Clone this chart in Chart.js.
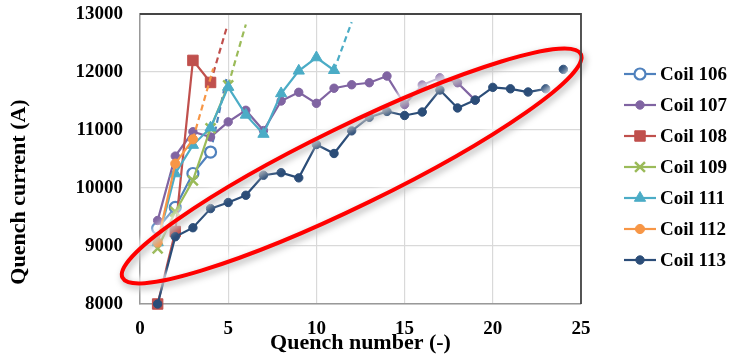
<!DOCTYPE html>
<html>
<head>
<meta charset="utf-8">
<script src="https://cdn.jsdelivr.net/npm/chart.js@4.4.1/dist/chart.umd.min.js"></script>
<style>
  html, body { margin: 0; padding: 0; background: #ffffff; }
  #wrap { width: 731px; height: 356px; }
</style>
</head>
<body>
<div id="wrap"><canvas id="chart" width="731" height="356"></canvas></div>
<script>
// Quench training history per coil: quench number vs quench current (A)
const quenchNumbers = [1, 2, 3, 4, 5, 6, 7, 8, 9, 10, 11, 12, 13, 14, 15, 16, 17, 18, 19, 20, 21, 22, 23, 24];

const coil106 = [9305, 9665, 10250, 10620];
const coil107 = [9440, 10550, 10970, 10880, 11140, 11340, 10990, 11500, 11650, 11460,
                 11720, 11780, 11815, 11930, 11440, 11775, 11900, 11815, 11515];
const coil108 = [8000, 9250, 12200, 11820];
const coil109 = [8960, 9590, 10130, 11030, 11770];
const coil111 = [9060, 10250, 10740, 11040, 11740, 11260, 10930, 11630, 12020, 12250, 12030];
const coil112 = [9060, 10420, 10840];
const coil113 = [8000, 9160, 9315, 9645, 9750, 9875, 10220, 10265, 10175, 10750,
                 10595, 10985, 11220, 11320, 11250, 11310, 11690, 11380, 11515, 11735,
                 11710, 11655, 11710, 12045];

// Dashed continuations beyond the last recorded quench
const trend106X = [4, 4.9],  trend106Y = [10620, 11880];
const trend108X = [4, 4.9],  trend108Y = [11820, 12750];
const trend109X = [5, 6.0],  trend109Y = [11770, 12820];
const trend111X = [11, 12],  trend111Y = [12030, 12860];
const trend112X = [3, 4.15], trend112Y = [10840, 12060];

const xTicks = [0, 5, 10, 15, 20, 25];
const yTicks = [8000, 9000, 10000, 11000, 12000, 13000];

const toPoints = (vals) => vals.map((v, i) => ({ x: quenchNumbers[i], y: v }));
const toPairs = (xs, ys) => xs.map((x, i) => ({ x: x, y: ys[i] }));

const FONT = "'Liberation Serif', 'Times New Roman', serif";

function coilSeries(label, values, color, style, radius, order, extra) {
  return Object.assign({
    label: label,
    data: toPoints(values),
    borderColor: color,
    backgroundColor: color,
    borderWidth: 2.2,
    pointStyle: style,
    pointRadius: radius,
    pointHoverRadius: radius,
    pointBackgroundColor: color,
    pointBorderColor: color,
    pointBorderWidth: 1,
    tension: 0,
    clip: false,
    order: order,
    inLegend: true
  }, extra || {});
}

function dashedSeries(xs, ys, color, order) {
  return {
    label: '',
    data: toPairs(xs, ys),
    borderColor: color,
    borderWidth: 2.2,
    borderDash: [6, 4],
    pointRadius: 0,
    pointHoverRadius: 0,
    tension: 0,
    clip: false,
    order: order,
    inLegend: false
  };
}

const datasets = [
  coilSeries('Coil 106', coil106, '#4F81BD', 'circle', 5.5, 6,
             { pointBackgroundColor: '#ffffff', pointBorderWidth: 2.2 }),
  coilSeries('Coil 107', coil107, '#8064A2', 'circle', 4.2, 5),
  coilSeries('Coil 108', coil108, '#C0504D', 'rect', 7.4, 4),
  coilSeries('Coil 109', coil109, '#9BBB59', 'crossRot', 7, 3,
             { pointBorderWidth: 2.5 }),
  coilSeries('Coil 111', coil111, '#4BACC6', 'triangle', 6.5, 2),
  coilSeries('Coil 112', coil112, '#F79646', 'circle', 4.6, 1),
  coilSeries('Coil 113', coil113, '#2B4D78', 'circle', 4.2, 0, {
    // the final quench is plotted on its own, not joined to the run before it
    segment: {
      borderColor: (ctx) => ctx.p1DataIndex === coil113.length - 1 ? 'rgba(0,0,0,0)' : undefined
    }
  }),
  dashedSeries(trend106X, trend106Y, '#4F81BD', 6),
  dashedSeries(trend108X, trend108Y, '#C0504D', 4),
  dashedSeries(trend109X, trend109Y, '#9BBB59', 3),
  dashedSeries(trend111X, trend111Y, '#4BACC6', 2),
  dashedSeries(trend112X, trend112Y, '#F79646', 1)
];

// Dark frame on the top and right of the plot area
const frame = {
  id: 'frame',
  afterDraw(chart) {
    const { ctx, chartArea: a } = chart;
    ctx.save();
    ctx.strokeStyle = '#454545';
    ctx.lineWidth = 1.8;
    ctx.beginPath();
    ctx.moveTo(a.left, a.top);
    ctx.lineTo(a.right, a.top);
    ctx.lineTo(a.right, a.bottom);
    ctx.stroke();
    ctx.restore();
  }
};

// Red ellipse highlighting the long training run of coil 113
const highlight = {
  id: 'highlight',
  afterDatasetsDraw(chart) {
    const { ctx, scales } = chart;
    const cx = scales.x.getPixelForValue(12.0);
    const cy = scales.y.getPixelForValue(10380);
    const rx = 255, ry = 40, rot = -26 * Math.PI / 180;
    ctx.save();
    ctx.filter = 'blur(3px)';
    ctx.strokeStyle = 'rgba(255,255,255,0.75)';
    ctx.lineWidth = 14;
    ctx.beginPath();
    ctx.ellipse(cx, cy, rx, ry, rot, 0, Math.PI * 2);
    ctx.stroke();
    ctx.restore();

    ctx.save();
    ctx.shadowColor = 'rgba(0,0,0,0.35)';
    ctx.shadowBlur = 7;
    ctx.shadowOffsetX = 2;
    ctx.shadowOffsetY = 3;
    ctx.strokeStyle = '#ff0000';
    ctx.lineWidth = 4;
    ctx.beginPath();
    ctx.ellipse(cx, cy, rx, ry, rot, 0, Math.PI * 2);
    ctx.stroke();
    ctx.restore();
  }
};

// Axis titles
const titles = {
  id: 'titles',
  afterDraw(chart) {
    const { ctx, chartArea: a } = chart;
    ctx.save();
    ctx.fillStyle = '#000000';
    ctx.font = "bold 22px " + FONT;
    ctx.textAlign = 'center';
    ctx.textBaseline = 'middle';
    ctx.fillText('Quench number (-)', (a.left + a.right) / 2, 343);
    ctx.translate(19, 192);
    ctx.rotate(-Math.PI / 2);
    ctx.fillText('Quench current (A)', 0, 0);
    ctx.restore();
  }
};

// Legend with line-through markers on the right
const coilLegend = {
  id: 'coilLegend',
  afterDraw(chart) {
    const { ctx, chartArea: a } = chart;
    const items = chart.data.datasets.filter(d => d.inLegend);
    const x0 = a.right + 43, xm = a.right + 59, x1 = a.right + 75, xt = a.right + 79;
    items.forEach((ds, i) => {
      const y = 74 + i * 31;
      ctx.save();
      ctx.strokeStyle = ds.borderColor;
      ctx.lineWidth = ds.borderWidth;
      ctx.beginPath();
      ctx.moveTo(x0, y);
      ctx.lineTo(x1, y);
      ctx.stroke();
      ctx.fillStyle = ds.pointBackgroundColor;
      ctx.strokeStyle = ds.pointBorderColor;
      ctx.lineWidth = ds.pointBorderWidth;
      Chart.helpers.drawPoint(ctx, {
        pointStyle: ds.pointStyle,
        radius: ds.pointRadius,
        rotation: 0,
        borderWidth: ds.pointBorderWidth
      }, xm, y);
      ctx.fillStyle = '#000000';
      ctx.font = "bold 19px " + FONT;
      ctx.textAlign = 'left';
      ctx.textBaseline = 'middle';
      ctx.fillText(ds.label, xt, y + 1);
      ctx.restore();
    });
  }
};

new Chart(document.getElementById('chart'), {
  type: 'line',
  data: { datasets: datasets },
  options: {
    responsive: false,
    animation: false,
    layout: { padding: { top: 14, right: 150, bottom: 0, left: 0 } },
    plugins: {
      legend: { display: false },
      tooltip: { enabled: false }
    },
    scales: {
      x: {
        type: 'linear',
        min: xTicks[0],
        max: xTicks[xTicks.length - 1],
        afterFit: (s) => { s.height = 52; s.paddingLeft = 0; s.paddingRight = 0; },
        afterBuildTicks: (s) => { s.ticks = xTicks.map(v => ({ value: v })); },
        ticks: {
          padding: 14,
          color: '#000000',
          font: { family: FONT, size: 19, weight: 'bold' }
        },
        grid: { color: '#d9d9d9', lineWidth: 1.2, drawTicks: false },
        border: { color: '#999999', width: 1.5 }
      },
      y: {
        type: 'linear',
        min: yTicks[0],
        max: yTicks[yTicks.length - 1],
        afterFit: (s) => { s.width = 140; s.paddingTop = 0; s.paddingBottom = 0; },
        afterBuildTicks: (s) => { s.ticks = yTicks.map(v => ({ value: v })); },
        ticks: {
          padding: 17,
          color: '#000000',
          font: { family: FONT, size: 19, weight: 'bold' },
          callback: (v) => String(v)
        },
        grid: { color: '#d9d9d9', lineWidth: 1.2, drawTicks: false },
        border: { color: '#999999', width: 1.5 }
      }
    }
  },
  plugins: [frame, highlight, titles, coilLegend]
});
</script>
</body>
</html>
